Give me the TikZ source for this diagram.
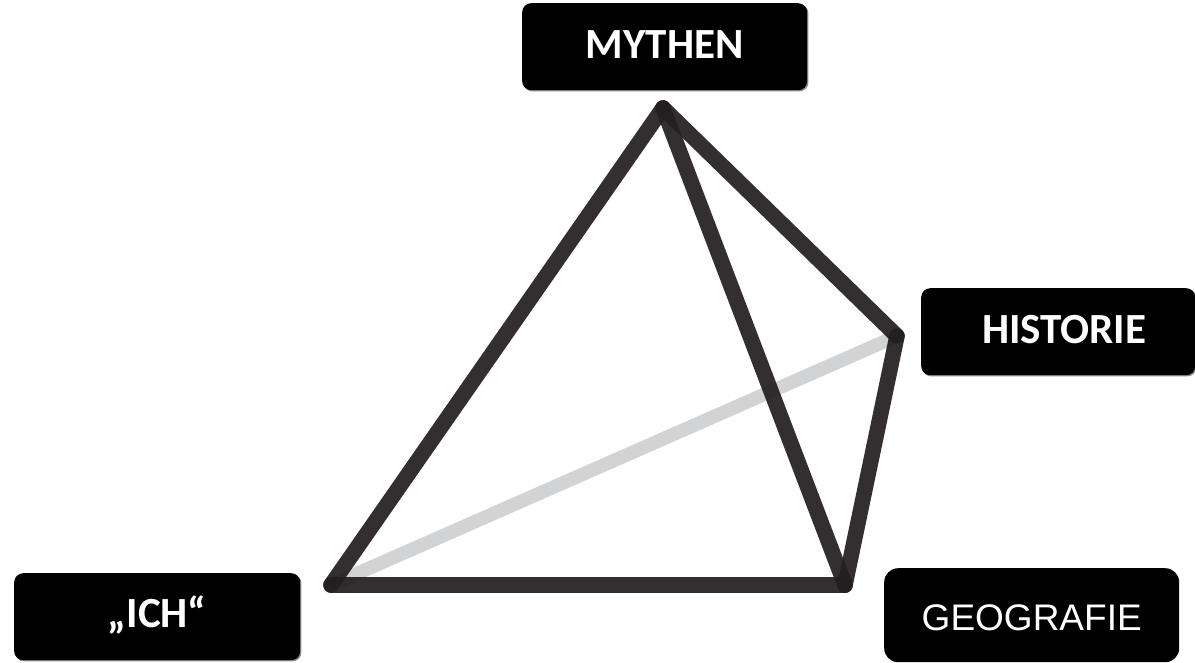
\documentclass[tikz,border=0pt]{standalone}
\usetikzlibrary{shadows}
\usepackage{fontspec}
\setmainfont{Carlito}
\newfontfamily\arialf{Liberation Sans}
\definecolor{edgedark}{RGB}{35,31,32}
\definecolor{edgegrey}{RGB}{209,211,212}
\begin{document}
\begin{tikzpicture}[x=1pt,y=-1pt,
  lab/.style={fill=black,rounded corners=9pt,text=white,inner sep=0pt,anchor=north west,align=center},
  shlab/.style={lab,drop shadow={shadow xshift=1.2pt,shadow yshift=-1.2pt,fill=black!45,opacity=1},font=\bfseries\fontsize{43}{43}\selectfont},
  edge/.style={line width=15.5pt,draw=edgedark,draw opacity=.93,line cap=round}]
\useasboundingbox (0,0) rectangle (1195,662);
\coordinate (m) at (663,108);
\coordinate (h) at (897,336);
\coordinate (g) at (845,585);
\coordinate (i) at (331,585);
\draw[line width=13.5pt,draw=edgegrey] (i) -- (h);
\draw[edge] (m) -- (i);
\draw[edge] (i) -- (g);
\draw[edge] (m) -- (g);
\draw[edge] (m) -- (h);
\draw[edge] (h) -- (g);
\node[shlab,minimum width=285pt,minimum height=87pt] (my) at (522,3) {\raisebox{2pt}[\height][\depth]{MYTHEN}};
\node[shlab,minimum width=274pt,minimum height=87pt] (hi) at (921,288) {\raisebox{2pt}[\height][\depth]{\hspace{12pt}HISTORIE}};
\node[shlab,minimum width=286pt,minimum height=87pt] (ic) at (14,573) {\raisebox{2pt}[\height][\depth]{„ICH“}};
\node[lab,rounded corners=14pt,minimum width=295pt,minimum height=94pt,font=\arialf\fontsize{37}{37}\selectfont] (ge) at (884,568) {\raisebox{-3pt}[\height][\depth]{GEOGRAFIE}};
\end{tikzpicture}
\end{document}
